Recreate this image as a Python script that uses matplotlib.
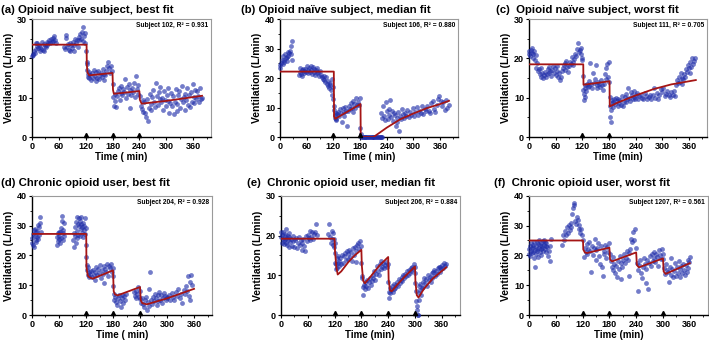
import matplotlib.pyplot as plt
import numpy as np

plt.rcParams["font.family"] = ["Liberation Sans", "DejaVu Sans"]
plt.rcParams["font.weight"] = "bold"

# ---- panel (a): subject 102 ----
a_t = [1, 2, 3, 5, 6, 8, 9, 11, 12, 14, 16, 17, 19, 21, 22, 24, 26, 27, 29, 31, 33, 34, 36, 38, 40, 42, 44, 46, 48, 50, 52, 54,
       72, 74, 75, 77, 79, 80, 82, 84, 86, 87, 89, 91, 93, 95, 96, 98, 100, 102, 104, 105, 107, 109, 111, 113, 114, 116, 118, 119,
       121, 122, 123, 124, 125, 126, 127, 128,
       130, 132, 134, 136, 138, 140, 142, 144, 146, 148, 150, 152, 154, 156, 158, 160, 162, 164, 166, 168, 170, 172, 174, 176, 178,
       181, 182, 183, 185, 186, 188, 190, 192, 194, 196, 198, 200, 202, 204, 206, 208, 210, 212, 214, 216, 218, 220, 222, 224, 226,
       228, 230, 232, 234, 236, 238,
       241, 243, 245, 247, 249, 251, 253, 255, 257, 259, 261, 263, 265, 267, 269, 271, 273, 275, 277, 279, 281, 283, 285, 287, 289,
       291, 293, 295, 297, 299, 301, 303, 305, 307, 309, 311, 313, 315, 317, 319, 321, 323, 325, 327, 329, 331, 333, 335, 337, 339,
       341, 343, 345, 347, 349, 351, 353, 355, 357, 359, 361, 363, 365, 367, 369, 371, 373, 375, 377, 379]
a_v = [20.5, 21.2, 20.8, 22.0, 21.5, 23.8, 22.3, 23.1, 24.0, 22.6, 23.4, 21.8, 23.0, 22.5, 24.1, 22.2, 23.6, 21.9, 23.2, 22.8,
       24.3, 23.5, 24.0, 24.6, 23.8, 24.9, 24.2, 25.1, 24.4, 25.8, 24.6, 24.0,
       23.0, 22.4, 26.0, 25.2, 22.8, 23.6, 22.1, 24.0, 21.9, 23.3, 22.6, 24.2, 22.0, 23.5, 25.0, 23.8, 24.6, 22.9, 25.4, 24.8,
       26.2, 25.0, 26.8, 28.0, 24.5, 25.6, 23.9, 26.5,
       22.0, 18.5, 17.0, 19.2, 16.0, 15.2, 16.5, 15.0,
       15.8, 14.6, 16.2, 15.1, 17.0, 15.5, 14.2, 16.6, 15.0, 16.8, 14.8, 15.9, 16.4, 15.3, 17.2, 14.5, 16.0, 15.7, 16.9, 18.2,
       19.2, 17.5, 16.3, 18.0, 16.8,
       13.5, 10.2, 8.0, 11.0, 9.2, 7.6, 10.4, 11.8, 12.5, 9.5, 11.2, 13.0, 10.6, 12.2, 11.5, 14.8, 10.0, 12.8, 11.0, 13.4, 7.5,
       12.0, 10.8, 12.6, 11.4, 13.8, 10.2, 15.5, 12.1, 13.2, 11.0,
       10.5, 8.0, 7.2, 9.5, 6.5, 8.8, 6.0, 5.2, 9.8, 4.0, 7.5, 11.0, 8.4, 6.8, 10.2, 12.0, 9.0, 7.6, 13.8, 10.5, 8.2, 11.5, 9.6,
       12.8, 8.8, 10.0, 7.0, 11.8, 9.4, 8.0, 10.8, 12.5, 9.2, 6.2, 8.6, 11.2, 7.8, 10.4, 5.8, 9.0, 12.2, 8.4, 6.6, 10.6, 11.6,
       7.4, 9.8, 13.0, 8.8, 10.2, 6.8, 11.0, 9.5, 12.4, 8.2, 10.8, 7.6, 11.4, 9.0, 13.6, 10.2, 8.6, 12.0, 9.6, 11.8, 10.4, 8.8,
       12.6, 9.8, 10.0]
a_fit_t = [0, 122, 122.5, 124, 128, 180, 181, 183, 240, 241, 245, 300, 380]
a_fit_v = [23.5, 23.5, 18.5, 16.4, 15.7, 16.3, 12.0, 11.0, 11.7, 9.5, 8.5, 9.2, 10.5]
a_doses = [120, 180, 240]

# ---- panel (b): subject 106 ----
b_t = [0, 1, 3, 4, 6, 7, 9, 10, 12, 13, 15, 16, 18, 19, 21, 22, 24, 25, 27, 28,
       42, 44, 45, 47, 49, 50, 52, 54, 55, 57, 59, 60, 62, 64, 65, 67, 69, 70, 72, 74, 76, 77, 79, 81, 83, 84, 86, 88, 90, 92,
       94, 96, 98, 100,
       102, 104, 105, 107, 109, 110, 112, 113, 115, 116, 118, 119,
       120, 121, 122, 123, 124, 125, 126,
       127, 129, 131, 133, 135, 137, 139, 141, 143, 145, 147, 149, 151, 153, 155, 157, 159, 161, 163, 165, 167, 169, 171, 173,
       175, 177, 179,
       180, 181,
       182, 184, 186, 188, 190, 192, 194, 196, 198, 200, 202, 204, 206, 208, 210, 212, 214, 216, 218, 220, 222, 224, 226, 228, 230,
       228, 230, 232, 234, 236, 238, 240, 242, 244, 246, 248, 250, 252, 254, 256, 258, 260, 262, 264, 266, 268, 270, 272, 274,
       276, 278, 280, 283, 286, 289, 292, 295, 298, 301, 304, 307, 310, 313, 316, 319, 322, 325, 328, 331, 334, 337, 340, 343,
       346, 349, 352, 355, 358, 361, 364, 367, 370, 373, 376, 379]
b_v = [23.5, 24.5, 25.0, 26.2, 24.8, 27.5, 26.0, 25.4, 28.0, 26.8, 27.2, 25.8, 29.0, 27.4, 28.6, 29.2, 28.0, 31.0, 32.6, 26.0,
       21.0, 23.5, 22.0, 21.5, 22.8, 20.8, 23.2, 22.4, 21.6, 23.0, 22.2, 24.0, 22.6, 21.8, 23.4, 22.0, 24.2, 22.8, 21.4, 23.6,
       22.2, 23.0, 21.2, 22.6, 23.4, 21.8, 22.0, 20.6, 22.4, 21.0, 20.4, 19.8, 20.6, 19.4,
       18.8, 20.2, 18.0, 17.2, 19.0, 16.8, 18.4, 17.6, 16.0, 19.6, 14.2, 17.0,
       13.0, 10.5, 9.2, 7.4, 6.6, 8.0, 5.8,
       6.2, 7.8, 8.6, 7.0, 9.4, 8.0, 5.2, 9.8, 8.4, 7.2, 10.2, 9.0, 3.8, 8.8, 10.6, 9.4, 11.6, 10.0, 8.6, 12.4, 11.2, 9.8, 13.2,
       10.8, 12.0, 11.0, 13.4,
       3.0, 1.2,
       0, 0, 0, 0, 0, 0, 0, 0, 0, 0, 0, 0, 0, 0, 0, 0, 0, 0, 0, 0, 0, 0, 0, 0, 0,
       8.2, 6.4, 10.6, 7.0, 5.8, 11.8, 8.8, 6.2, 9.6, 7.4, 12.6, 6.8, 9.0, 5.4, 8.2, 7.6, 3.8, 6.4, 5.0, 8.6, 2.2, 7.0, 6.2, 9.4,
       7.8, 6.6, 8.0, 7.2, 9.2, 6.8, 8.4, 7.6, 9.8, 7.0, 8.6, 10.2, 7.6, 9.0, 8.2, 10.6, 7.8, 9.4, 8.8, 10.4, 9.0, 8.0, 11.6,
       12.4, 9.6, 8.4, 11.0, 12.8, 13.8, 12.2, 10.4, 11.8, 9.2, 12.6, 10.0, 10.8]
b_fit_t = [0, 121, 121.5, 124, 181, 181.5, 210, 240, 270, 300, 330, 360, 380]
b_fit_v = [22.2, 22.2, 7.0, 6.2, 11.2, 0, 0, 3.2, 6.0, 8.0, 9.8, 11.2, 12.3]
b_doses = [120, 180]

# ---- panel (c): subject 111 ----
c_t = [0, 1, 3, 4, 6, 7, 9, 10, 12, 13, 15, 16, 18, 20, 22, 24, 26, 28, 30, 32, 34, 36, 38, 40, 42, 44, 46, 48, 50, 52, 54,
       56, 58, 60, 62, 64, 66, 68, 70, 72, 74, 76, 78, 80, 82, 84, 86, 88, 90, 92, 94, 96, 98, 100, 102, 104, 106, 108, 110,
       112, 114, 116, 118, 119,
       120, 121, 122, 123, 124, 125, 126, 127, 128,
       130, 132, 134, 136, 138, 140, 142, 144, 146, 148, 150, 152, 154, 156, 158, 160, 162, 164, 166, 168, 170, 172, 174, 176,
       178, 179,
       180, 181, 182, 183, 184, 185, 186, 187, 188, 189,
       191, 193, 195, 197, 199, 201, 203, 205, 207, 209, 211, 213, 215, 217, 219, 221, 223, 225, 227, 229, 231, 233, 235, 237,
       239, 241, 243, 245, 248, 251, 254, 257, 260, 263, 266, 269, 272, 275, 278, 281, 284, 287, 290, 293, 296, 299, 302, 305,
       308, 311, 314, 317, 320, 323, 326, 329,
       331, 333, 335, 337, 339, 341, 343, 345, 347, 349, 351, 353, 355, 357, 359, 361, 363, 365, 367, 369, 371, 373]
c_v = [21.0, 21.8, 20.6, 22.2, 21.4, 22.6, 21.0, 20.2, 21.8, 19.6, 20.8, 17.6, 18.8, 16.8, 17.2, 16.0, 17.6, 15.4, 16.2, 15.0,
       15.8, 16.6, 15.2, 16.0, 17.4, 16.2, 17.8, 16.8, 15.6, 17.0, 18.2, 16.4, 17.6, 15.8, 16.8, 18.0, 15.4, 16.2, 14.6, 15.2,
       16.8, 17.6, 18.4, 17.0, 18.8, 19.4, 17.8, 16.6, 18.2, 19.0, 18.6, 20.4, 19.2, 18.4, 19.8, 21.2, 20.6, 22.4, 23.8, 21.6,
       22.2, 21.0, 22.6, 20.0,
       19.6, 15.6, 12.0, 11.0, 9.4, 10.2, 13.2, 12.4, 11.6,
       13.4, 12.8, 14.2, 13.0, 18.8, 13.6, 12.6, 16.2, 13.8, 14.8, 18.4, 13.2, 12.4, 14.0, 13.6, 12.8, 14.6, 13.2, 12.0, 13.4,
       16.0, 14.8, 17.6, 18.6, 15.4, 19.2,
       14.0, 10.2, 7.8, 5.2, 6.8, 3.8, 8.6, 9.4, 7.6, 8.8,
       9.6, 8.4, 10.0, 9.2, 8.0, 9.8, 8.6, 9.4, 8.2, 10.4, 7.8, 9.0, 10.2, 8.8, 11.0, 9.6, 12.4, 10.0, 9.2, 11.4, 10.8, 9.6,
       10.2, 11.6, 9.8, 10.6, 11.2, 9.6, 10.4, 10.8, 10.0, 9.8, 11.2, 10.4, 9.6, 10.2, 10.8, 9.8, 10.6, 12.4, 10.0, 11.2, 9.8,
       10.6, 12.2, 11.4, 12.6, 10.4, 11.0, 11.8, 10.6, 10.2, 11.4, 10.8, 11.6, 10.4,
       13.2, 14.6, 13.8, 15.2, 14.0, 16.4, 15.0, 13.6, 14.8, 16.0, 15.4, 17.2, 16.6, 18.4, 17.6, 16.2, 19.0, 17.8, 20.0, 18.6,
       19.4, 20.2]
c_fit_t = [0, 122, 122.5, 181, 181.5, 200, 240, 280, 320, 350, 375]
c_fit_v = [18.5, 18.5, 13.3, 14.2, 7.8, 8.8, 10.6, 12.2, 13.4, 14.0, 14.5]
c_doses = [120, 180]

# ---- panel (d): subject 204 ----
d_t = [0, 1, 2, 3, 4, 5, 6, 7, 8, 9, 10, 11, 12, 13, 14, 15, 16, 17, 18, 19,
       55, 56, 57, 58, 59, 60, 61, 62, 63, 64, 65, 66, 67, 68, 69, 70, 71, 72,
       92, 93, 94, 95, 96, 97, 98, 99, 100, 101, 102, 103, 104, 105, 106, 107, 108, 109, 110, 111, 112, 113, 114, 115, 116,
       117, 118, 119,
       120, 121, 122, 123, 124, 125, 126, 127,
       129, 131, 133, 135, 137, 139, 141, 143, 145, 147, 149, 151, 153, 155, 157, 159, 161, 163, 165, 167, 169, 171, 173, 175,
       177, 179,
       180, 181, 182, 183, 185, 187, 189, 191, 193, 195, 197, 199, 201, 203, 205, 207, 209,
       226, 228, 230, 232, 234, 236, 238, 240,
       241, 243, 245, 247, 249, 251, 253, 255, 257, 259, 261, 263, 265, 267, 269, 271, 273, 275, 277, 279, 281, 283, 285, 287,
       289, 291, 293, 295, 297, 299,
       301, 304, 307, 310, 313, 316, 319, 322, 325, 328, 331, 334, 337, 340, 342, 344, 346, 348, 350, 352, 354, 355]
d_v = [24.2, 25.8, 23.4, 27.2, 28.6, 22.8, 26.4, 29.0, 25.0, 27.8, 24.6, 28.2, 26.2, 30.2, 25.4, 29.4, 27.0, 31.0, 33.0, 28.0,
       23.6, 26.2, 24.8, 27.4, 25.6, 28.0, 26.6, 24.2, 27.8, 29.2, 26.0, 31.6, 33.2, 27.4, 25.0, 28.6, 30.8, 26.4,
       25.2, 27.6, 22.8, 29.4, 26.4, 24.0, 31.2, 28.2, 33.0, 25.8, 30.6, 27.0, 32.4, 29.8, 31.6, 26.6, 28.8, 30.4, 32.8, 27.4,
       29.6, 31.0, 26.2, 28.4, 30.0, 27.2, 32.6, 29.2,
       23.4, 19.6, 16.8, 15.0, 16.2, 13.4, 14.6, 12.8,
       13.8, 14.8, 12.6, 15.2, 13.4, 14.6, 11.8, 16.2, 13.6, 15.4, 14.2, 16.8, 12.4, 15.0, 13.8, 16.4, 10.6, 15.6, 14.4, 17.2,
       13.2, 16.6, 15.8, 17.0, 14.6, 15.8,
       13.0, 9.6, 7.0, 5.2, 6.2, 4.4, 3.4, 5.6, 6.8, 4.8, 2.6, 5.8, 6.6, 4.2, 6.4, 5.0, 7.0,
       7.6, 6.4, 8.2, 5.8, 7.0, 9.4, 6.2, 8.0,
       5.4, 4.2, 5.8, 3.6, 2.8, 5.0, 6.2, 1.6, 4.4, 3.0, 8.6, 14.6, 5.2, 3.8, 6.0, 4.6, 7.2, 5.6, 3.4, 6.6, 4.8, 7.6, 5.2, 6.8,
       4.0, 5.8, 7.4, 6.4, 5.0, 6.2,
       5.6, 6.8, 5.2, 7.4, 6.0, 5.0, 7.8, 6.4, 8.6, 5.8, 7.2, 4.2, 8.4, 7.0, 9.6, 8.0, 13.0, 6.4, 5.0, 11.2, 13.6, 10.2]
d_fit_t = [0, 120.5, 121, 124, 128, 135, 180, 181.5, 184, 190, 240, 241.5, 245, 255, 300, 360]
d_fit_v = [27.2, 27.2, 16.0, 13.2, 12.6, 12.2, 15.0, 8.0, 7.0, 6.6, 9.4, 5.0, 4.0, 3.6, 5.6, 8.8]
d_doses = [120, 180, 240]

# ---- panel (e): subject 206 ----
e_t = [0, 1, 2, 3, 4, 5, 6, 7, 8, 9, 10, 11, 12, 13, 14, 15, 16, 17, 18, 19, 20, 22, 24, 26, 28, 30, 32, 34, 36, 38, 40, 42,
       44, 46, 48, 50, 52, 54, 56, 58, 60, 62, 64, 66, 68, 70, 72, 74, 76, 78, 80,
       106, 108, 110, 112, 114, 115, 116, 117, 118, 119,
       120, 121, 122, 123, 124, 125, 126, 127, 128, 129,
       131, 133, 135, 137, 139, 141, 143, 145, 147, 149, 151, 153, 155, 157, 159, 161, 163, 165, 167, 169, 171, 173, 175, 177, 179,
       180, 181, 182, 183, 184, 185, 187, 189, 191, 193, 195, 197, 199, 201, 203, 205, 207, 209, 211, 213, 215, 217, 219, 221,
       223, 225, 227, 229, 231, 233, 235, 237, 239,
       240, 241, 242, 243, 244, 246, 248, 250, 252, 254, 256, 258, 260, 262, 264, 266, 268, 270, 272, 274, 276, 278, 280, 282,
       284, 286, 288, 290, 292, 294, 296, 298, 299,
       300, 301, 302, 303, 304, 305, 306, 307, 308, 309, 310, 311, 312, 313,
       315, 317, 319, 321, 323, 325, 327, 329, 331, 333, 335, 337, 339, 341, 343, 345, 347, 349, 351, 353, 355, 357, 359, 361,
       363, 365, 367, 369]
e_v = [19.6, 20.8, 18.2, 20.2, 19.0, 21.0, 18.6, 17.8, 19.8, 20.4, 19.2, 18.0, 21.6, 19.4, 17.6, 20.0, 18.8, 19.6, 17.2, 20.6,
       18.4, 19.0, 17.4, 18.6, 19.8, 17.0, 18.8, 19.4, 16.8, 18.2, 19.6, 17.6, 18.8, 16.4, 18.0, 19.2, 17.4, 16.0, 19.8, 18.6,
       20.2, 19.4, 18.8, 21.2, 19.6, 20.8, 19.2, 20.4, 21.0, 23.0, 20.2,
       20.4, 22.8, 19.6, 18.0, 21.2, 19.0, 17.6, 20.6, 19.2, 17.0,
       18.0, 15.6, 13.2, 11.6, 12.8, 14.4, 11.8, 13.0, 14.8, 12.4,
       13.6, 14.4, 12.8, 15.0, 13.2, 14.8, 15.6, 13.8, 16.0, 14.2, 15.4, 16.4, 14.6, 15.8, 13.6, 16.8, 15.2, 17.0, 16.2, 13.4,
       17.6, 18.0, 16.6, 18.6, 17.4,
       13.2, 9.8, 9.4, 7.0, 5.0, 7.6, 8.4, 6.6, 7.2, 8.8, 6.8, 8.2, 9.2, 7.6, 8.6, 10.0, 9.2, 11.2, 8.8, 10.4, 12.4, 11.0, 10.0,
       12.8, 11.6, 13.6, 12.2, 13.0, 11.8, 12.6, 13.4, 12.0, 12.8,
       8.4, 5.8, 4.2, 5.6, 6.8, 6.2, 7.4, 5.8, 6.6, 7.8, 6.8, 7.6, 8.4, 7.2, 9.0, 8.0, 8.8, 9.6, 8.6, 10.0, 9.2, 10.4, 9.8, 11.0,
       10.2, 11.4, 10.6, 11.8, 11.2, 12.2, 11.6, 12.8, 12.0,
       10.6, 8.0, 6.0, 3.6, 2.4, 1.2, 0.0, 0.0, 3.8, 5.6, 7.2, 6.4, 7.8, 5.0,
       6.8, 8.2, 7.0, 9.4, 8.0, 9.0, 7.4, 10.0, 8.8, 9.6, 8.2, 10.6, 9.4, 10.8, 11.4, 9.8, 11.2, 10.4, 11.8, 12.2, 10.8, 12.0,
       11.6, 12.6, 11.8, 13.0, 12.4, 12.8]
e_fit_t = [0, 120, 121, 124, 127, 135, 150, 165, 180, 181, 184, 188, 200, 220, 240, 241, 244, 248, 260, 280, 300, 301, 304,
           308, 320, 340, 370]
e_fit_v = [19.2, 19.2, 16.0, 12.0, 10.2, 11.0, 13.2, 15.0, 16.4, 12.5, 8.6, 8.0, 9.6, 12.4, 14.6, 9.0, 6.2, 6.0, 7.6, 10.0,
           12.2, 8.5, 5.0, 4.4, 6.6, 9.2, 12.0]
e_doses = [120, 180, 240, 300]

# ---- panel (f): subject 1207 ----
f_t = [0, 1, 2, 3, 4, 5, 6, 7, 8, 9, 10, 11, 12, 13, 14, 15, 16, 17, 18, 19, 20, 21, 22, 23, 24, 25, 26, 27, 28, 29, 30, 31,
       32, 33, 34, 35, 36, 37, 38, 39, 40, 42, 44, 46, 48, 50,
       75, 77, 79, 81, 83, 85, 87, 89, 91, 93, 95, 97, 99, 100, 101, 103, 105, 107, 109, 111, 113, 115, 117, 119,
       121, 123, 125, 127, 129, 131, 133, 135, 137, 139, 141, 143, 145, 147, 149, 151, 153, 155, 157, 159, 161, 163, 165, 167,
       169, 171, 173, 175, 177, 179,
       181, 183, 185, 187, 189, 191, 193, 195, 197, 199, 201, 203, 205, 207, 209, 211, 213, 215, 217, 219, 221, 223, 225, 227,
       229, 231, 233, 235, 237, 239,
       241, 243, 245, 247, 249, 251, 253, 255, 257, 259, 261, 263, 265, 267, 269, 271, 273, 275, 277, 279, 281, 283, 285, 287,
       289, 291, 293, 295, 297, 299,
       301, 303, 305, 307, 309, 311, 313, 315, 317, 319, 321, 323, 325, 327, 329, 331, 333, 335, 337, 339, 341, 343, 345, 347,
       349, 351, 353, 355, 357, 359, 361]
f_v = [22.0, 20.4, 23.2, 19.8, 21.6, 24.0, 22.4, 20.8, 23.6, 21.2, 22.8, 19.0, 24.4, 21.8, 16.0, 23.0, 20.6, 22.2, 24.6, 21.4,
       23.8, 19.6, 22.6, 25.2, 21.0, 23.4, 22.0, 24.2, 20.2, 23.0, 22.6, 24.8, 21.6, 23.6, 25.0, 22.2, 24.4, 23.0, 21.2, 24.0,
       22.8, 19.8, 21.4, 18.2, 23.2, 25.4,
       23.4, 26.8, 25.2, 28.2, 27.0, 29.4, 27.6, 30.2, 28.4, 31.0, 29.6, 34.0, 35.8, 37.6, 36.8, 31.4, 30.6, 33.0, 31.8, 28.8,
       30.2, 27.4, 29.0, 26.8,
       25.0, 19.6, 22.4, 21.0, 23.8, 20.6, 22.2, 24.6, 21.4, 14.6, 23.0, 20.2, 22.6, 25.4, 21.8, 18.4, 22.4, 24.0, 19.8, 17.2,
       23.0, 16.0, 13.2, 21.6, 20.4, 23.6, 19.2, 22.8, 21.0, 24.2,
       20.6, 18.2, 16.0, 19.4, 15.0, 17.2, 14.2, 16.6, 12.6, 18.0, 15.6, 19.8, 17.4, 12.0, 16.2, 18.6, 20.4, 17.6, 19.2, 21.6,
       18.4, 20.8, 13.0, 22.2, 25.6, 24.4, 27.8, 25.0, 29.0, 22.6,
       17.6, 15.2, 8.0, 16.8, 18.4, 14.0, 12.4, 16.0, 19.2, 17.0, 10.8, 15.6, 18.6, 8.6, 17.4, 19.8, 16.4, 20.4, 18.0, 19.0,
       21.0, 17.8, 20.6, 19.4, 16.6, 21.8, 20.0, 18.8, 22.2, 20.6,
       18.8, 15.8, 13.8, 17.0, 15.0, 14.4, 11.2, 16.2, 13.4, 19.0, 15.6, 12.6, 14.8, 17.4, 13.2, 16.0, 14.2, 18.2, 15.4, 12.8,
       16.6, 14.0, 17.2, 15.0, 13.6, 16.8, 14.6, 18.6, 15.8, 17.8, 19.6]
f_fit_t = [0, 121, 121.5, 125, 130, 180, 181.5, 186, 240, 241.5, 246, 300, 301.5, 306, 360]
f_fit_v = [25.0, 25.0, 22.0, 21.0, 20.8, 22.6, 18.6, 18.0, 21.0, 16.8, 16.0, 19.0, 14.6, 13.8, 17.4]
f_doses = [120, 180, 240, 300]

panels = [
    ("(a) Opioid naïve subject, best fit", "Subject 102, R² = 0.931", "Time ( min)", 30,
     a_t, a_v, a_fit_t, a_fit_v, a_doses),
    ("(b) Opioid naïve subject, median fit", "Subject 106, R² = 0.880", "Time ( min)", 40,
     b_t, b_v, b_fit_t, b_fit_v, b_doses),
    ("(c)  Opioid naïve subject, worst fit", "Subject 111, R² = 0.705", "Time (min)", 30,
     c_t, c_v, c_fit_t, c_fit_v, c_doses),
    ("(d) Chronic opioid user, best fit", "Subject 204, R² = 0.928", "Time ( min)", 40,
     d_t, d_v, d_fit_t, d_fit_v, d_doses),
    ("(e)  Chronic opioid user, median fit", "Subject 206, R² = 0.884", "Time (min)", 30,
     e_t, e_v, e_fit_t, e_fit_v, e_doses),
    ("(f)  Chronic opioid user, worst fit", "Subject 1207, R² = 0.561", "Time (min)", 40,
     f_t, f_v, f_fit_t, f_fit_v, f_doses),
]

# axes rects (left, bottom, width, height) and title anchor in figure coords
rects = [
    [0.0451, 0.598, 0.2525, 0.346],
    [0.3949, 0.598, 0.2510, 0.346],
    [0.7461, 0.598, 0.2510, 0.346],
    [0.0451, 0.076, 0.2540, 0.350],
    [0.3963, 0.076, 0.2520, 0.350],
    [0.7461, 0.076, 0.2520, 0.350],
]
title_xy = [(0.002, 0.971), (0.340, 0.971), (0.699, 0.971),
            (0.002, 0.463), (0.349, 0.463), (0.697, 0.463)]

fig = plt.figure(figsize=(7.09, 3.41), dpi=100)

for (title, note, xlab, ymax, t, v, ft, fv, doses), rect, (tx, ty) in zip(panels, rects, title_xy):
    ax = fig.add_axes(rect)
    ax.scatter(t, v, s=12, color="#1e2ca8", alpha=0.62, linewidths=0, clip_on=False, zorder=3)
    ax.plot(ft, fv, color="#a51515", lw=1.3, zorder=4)
    # dose markers on the time axis
    ax.plot(doses, [ymax * 0.02] * len(doses), "^", color="black", ms=3, clip_on=False, zorder=5)

    ax.set_xlim(0, 400)
    ax.set_ylim(0, ymax)
    ax.set_xticks(np.arange(0, 361, 60))
    ax.set_xticks(np.arange(30, 400, 60), minor=True)
    ax.set_yticks(np.arange(0, ymax + 1, 10))
    ax.set_yticks(np.arange(5, ymax, 10), minor=True)
    ax.tick_params(which="major", length=2.5, width=0.8, labelsize=6.5, pad=1)
    ax.tick_params(which="minor", length=1.6, width=0.6)
    for lbl in ax.get_xticklabels() + ax.get_yticklabels():
        lbl.set_fontweight("bold")

    for side in ["left", "bottom"]:
        ax.spines[side].set_linewidth(1.0)
        ax.spines[side].set_color("black")
    for side in ["top", "right"]:
        ax.spines[side].set_linewidth(0.8)
        ax.spines[side].set_color("#9a9a9a")

    ax.set_xlabel(xlab, fontsize=7, fontweight="bold", labelpad=1)
    ax.set_ylabel("Ventilation (L/min)", fontsize=7.5, fontweight="bold", labelpad=2)
    ax.text(0.985, 0.975, note, transform=ax.transAxes, ha="right", va="top", fontsize=4.8, fontweight="bold")

    fig.text(tx, ty, title, fontsize=8.2, fontweight="bold", ha="left", va="center")

plt.savefig("out.png", dpi=100)
plt.close(fig)
